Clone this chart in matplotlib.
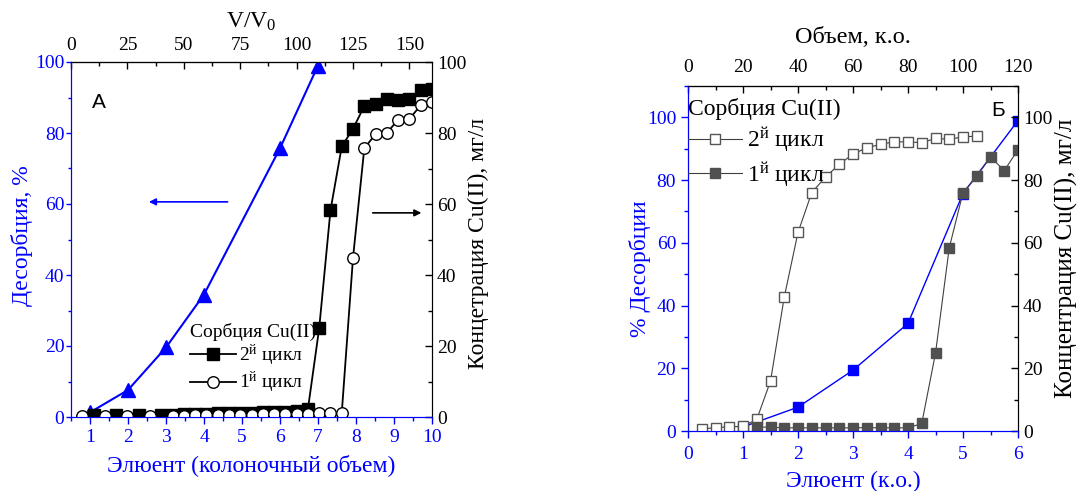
import numpy as np
import matplotlib
matplotlib.use("Agg")
import matplotlib.pyplot as plt
from matplotlib.ticker import MultipleLocator

plt.rcParams['font.family'] = ['Liberation Serif', 'DejaVu Serif']
plt.rcParams['mathtext.fontset'] = 'custom'
plt.rcParams['mathtext.rm'] = 'Liberation Serif'
plt.rcParams['mathtext.it'] = 'Liberation Serif:italic'

# ---------------- Panel A data ----------------
a_des_x = [1, 2, 3, 4, 6, 7]
a_des_y = [1.3, 7.6, 19.6, 34.5, 75.7, 99.0]

a_c2_v = [10, 20, 30, 40, 45, 50, 55, 60, 65, 70, 75, 80, 85, 90, 95, 100, 105,
          110, 115, 120, 125, 130, 135, 140, 145, 150, 155, 160]
a_c2_y = [0.5, 0.5, 0.6, 0.7, 0.7, 0.8, 0.8, 0.9, 1.0, 1.0, 1.1, 1.2, 1.3, 1.4, 1.5, 1.7, 2.2,
          25.0, 58.2, 76.2, 81.2, 87.6, 88.2, 89.7, 89.2, 89.7, 92.2, 92.5]

a_c1_v = [5, 15, 25, 35, 45, 50, 55, 60, 65, 70, 75, 80, 85, 90, 95, 100, 105, 110, 115, 120,
          125, 130, 135, 140, 145, 150, 155, 160]
a_c1_y = [0.2, 0.2, 0.2, 0.3, 0.3, 0.4, 0.5, 0.5, 0.6, 0.6, 0.7, 0.7, 0.8, 0.8, 0.9, 0.9, 0.9, 1.1, 1.1, 1.1,
          44.9, 75.7, 79.7, 80.0, 83.8, 84.0, 87.8, 88.6]

# ---------------- Panel B data ----------------
b_des_x = [1, 2, 3, 4, 5, 6]
b_des_y = [1.3, 7.6, 19.4, 34.3, 75.7, 99.0]

b_c2_x = [0.25, 0.5, 0.75, 1.0, 1.25, 1.5, 1.75, 2.0, 2.25, 2.5, 2.75, 3.0, 3.25, 3.5, 3.75,
          4.0, 4.25, 4.5, 4.75, 5.0, 5.25]
b_c2_y = [0.6, 1.1, 1.3, 1.5, 3.7, 15.9, 42.7, 63.3, 76.0, 81.0, 85.0, 88.3, 90.3, 91.4, 92.2,
          92.2, 91.9, 93.3, 93.0, 93.8, 94.0]

b_c1_x = [1.25, 1.5, 1.75, 2.0, 2.25, 2.5, 2.75, 3.0, 3.25, 3.5, 3.75, 4.0, 4.25, 4.5, 4.75,
          5.0, 5.25, 5.5, 5.75, 6.0]
b_c1_y = [1.3, 1.2, 1.0, 1.0, 1.0, 1.0, 1.0, 1.0, 1.1, 1.0, 1.0, 1.0, 2.4, 24.8, 58.4,
          76.0, 81.2, 87.4, 83.0, 89.7]

BLUE = '#0000ff'
W, H = 1078, 491
fig = plt.figure(figsize=(W / 100, H / 100), dpi=100)


def rect(l, r, t, b):
    return [l / W, 1 - b / H, (r - l) / W, (b - t) / H]


def style_main(ax, ax2, axt, top_pad):
    for s in ['left', 'bottom']:
        ax.spines[s].set_color(BLUE)
        ax2.spines[s].set_color(BLUE)
    for s in ['top', 'right']:
        ax.spines[s].set_color('black')
        ax2.spines[s].set_color('black')
    axt.spines['top'].set_color('black')
    ax.tick_params(axis='both', which='major', direction='out', length=5, width=1,
                   colors=BLUE, labelsize=14)
    ax.tick_params(axis='both', which='minor', direction='out', length=3, width=1, colors=BLUE)
    ax2.tick_params(axis='y', which='major', direction='in', length=5, width=1,
                    colors='black', labelsize=14)
    ax2.tick_params(axis='y', which='minor', direction='in', length=3, width=1, colors='black')
    axt.tick_params(axis='x', which='major', direction='in', length=5, width=1,
                    colors='black', labelsize=14, pad=top_pad)
    axt.tick_params(axis='x', which='minor', direction='in', length=3, width=1, colors='black')


# ================= Panel A =================
axA = fig.add_axes(rect(71, 432, 62, 417))
axA2 = axA.twinx()
xmin, xmax, vmax = 0.5, 10.0, 160.0
to_v = lambda x: (x - xmin) * vmax / (xmax - xmin)
from_v = lambda v: xmin + np.asarray(v) * (xmax - xmin) / vmax
axAt = axA.secondary_xaxis('top', functions=(to_v, from_v))

axA.plot(a_des_x, a_des_y, color=BLUE, lw=1.5, marker='^', ms=10, mfc=BLUE, mec=BLUE, zorder=3)
l2, = axA2.plot(from_v(a_c2_v), a_c2_y, color='black', lw=1.3, marker='s', ms=8,
                mfc='black', mec='black', label='2$^{\\mathrm{й}}$ цикл')
l1, = axA2.plot(from_v(a_c1_v), a_c1_y, color='black', lw=1.3, marker='o', ms=8.3,
                mfc='white', mec='black', mew=1, label='1$^{\\mathrm{й}}$ цикл')

axA.set_xlim(xmin, xmax)
axA.set_ylim(0, 100)
axA2.set_ylim(0, 100)
axA.set_xticks(range(1, 11))
axA.xaxis.set_minor_locator(MultipleLocator(0.5))
axA.yaxis.set_major_locator(MultipleLocator(20))
axA.yaxis.set_minor_locator(MultipleLocator(10))
axA2.yaxis.set_major_locator(MultipleLocator(20))
axA2.yaxis.set_minor_locator(MultipleLocator(10))
axAt.set_xticks([0, 25, 50, 75, 100, 125, 150])
axAt.xaxis.set_minor_locator(MultipleLocator(12.5))
style_main(axA, axA2, axAt, top_pad=5.5)
axA.tick_params(axis='y', which='major', length=3.5, pad=1.2)
axA.tick_params(axis='y', which='minor', length=2.2)

axA.set_xlabel('Элюент (колоночный объем)', color=BLUE, fontsize=17, labelpad=6)
axA.set_ylabel('Десорбция, %', color=BLUE, fontsize=17)
axA.yaxis.set_label_coords(-0.105, 0.51)
axA2.set_ylabel('Концетрация Cu(II), мг/л', color='black', fontsize=17)
axA2.yaxis.set_label_coords(1.100, 0.49)
axAt.set_xlabel('V/V$_0$', fontsize=17, labelpad=7)

axA.text(0.058, 0.885, 'А', transform=axA.transAxes, fontsize=15, family='Liberation Sans',
         va='center', ha='left')
axA.annotate('', xy=(2.55, 60.6), xytext=(4.62, 60.6),
             arrowprops=dict(arrowstyle='-|>', color=BLUE, lw=1.2, mutation_scale=10,
                             shrinkA=0, shrinkB=0))
axA2.annotate('', xy=(9.72, 57.5), xytext=(8.44, 57.5),
              arrowprops=dict(arrowstyle='-|>', color='black', lw=1.2, mutation_scale=10,
                              shrinkA=0, shrinkB=0))
legA = axA2.legend(handles=[l2, l1], title='Сорбция Cu(II)', loc='upper left',
                   bbox_to_anchor=(0.33, 0.265), frameon=False, fontsize=14,
                   title_fontsize=14, handlelength=2.35, handletextpad=0.15,
                   labelspacing=0.1, borderpad=0, borderaxespad=0, alignment='left')

# ================= Panel B =================
axB = fig.add_axes(rect(688, 1018, 86, 431))
axB2 = axB.twinx()
axBt = axB.secondary_xaxis('top', functions=(lambda x: x * 20, lambda v: np.asarray(v) / 20))

axB.plot(b_des_x, b_des_y, color=BLUE, lw=1.0, marker='s', ms=7, mfc=BLUE, mec=BLUE)
m2, = axB2.plot(b_c2_x, b_c2_y, color='#404040', lw=0.8, marker='s', ms=6.5,
                mfc='white', mec='#555555', mew=1, label='2$^{\\mathrm{й}}$ цикл')
m1, = axB2.plot(b_c1_x, b_c1_y, color='#404040', lw=0.8, marker='s', ms=7,
                mfc='#505050', mec='#505050', label='1$^{\\mathrm{й}}$ цикл')

axB.set_xlim(0, 6)
axB.set_ylim(0, 110)
axB2.set_ylim(0, 110)
axB.xaxis.set_major_locator(MultipleLocator(1))
axB.xaxis.set_minor_locator(MultipleLocator(0.5))
axB.yaxis.set_major_locator(MultipleLocator(20))
axB.yaxis.set_minor_locator(MultipleLocator(10))
axB2.yaxis.set_major_locator(MultipleLocator(20))
axB2.yaxis.set_minor_locator(MultipleLocator(10))
axBt.set_xticks([0, 20, 40, 60, 80, 100, 120])
axBt.xaxis.set_minor_locator(MultipleLocator(10))
style_main(axB, axB2, axBt, top_pad=7)
axB.tick_params(axis='x', which='major', pad=5.5)

axB.set_xlabel('Элюент (к.о.)', color=BLUE, fontsize=17, labelpad=6)
axB.set_ylabel('% Десорбции', color=BLUE, fontsize=17)
axB.yaxis.set_label_coords(-0.112, 0.47)
axB2.set_ylabel('Концентрация Cu(II), мг/л', color='black', fontsize=18)
axB2.yaxis.set_label_coords(1.112, 0.5)
axBt.set_xlabel('Объем, к.о.', fontsize=17.5, labelpad=12)

axB.text(0.94, 0.93, 'Б', transform=axB.transAxes, fontsize=15, family='Liberation Sans',
         va='center', ha='center')
legB = axB2.legend(handles=[m2, m1], title='Сорбция Cu(II)', loc='upper left',
                   bbox_to_anchor=(0.0, 0.965), frameon=False, fontsize=17,
                   title_fontsize=17, handlelength=2.3, handletextpad=0.2,
                   labelspacing=0.25, borderpad=0, borderaxespad=0, alignment='left')

fig.savefig('out.png', dpi=100)
